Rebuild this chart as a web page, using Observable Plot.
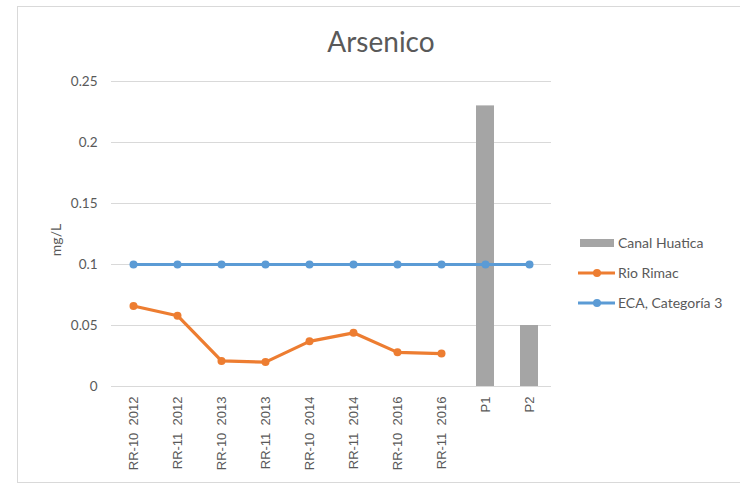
<!DOCTYPE html>
<html><head><meta charset="utf-8">
<script src="https://cdn.jsdelivr.net/npm/d3@7"></script>
<script src="https://cdn.jsdelivr.net/npm/@observablehq/plot@0.6"></script>
<style>
html,body{margin:0;padding:0;background:#fff;}
#wrap{position:relative;width:740px;height:485px;overflow:hidden;font-family:Lato,"Open Sans",sans-serif;color:#595959;}
#frame{position:absolute;left:17px;top:6px;width:740px;height:477px;border:1px solid #d9d9d9;box-sizing:border-box;}
#title{position:absolute;left:0;width:762px;top:24px;text-align:center;font-size:28px;color:#595959;}
#ylab{position:absolute;left:55px;top:240px;transform:translate(-50%,-50%) rotate(-90deg);font-size:14px;}
.leg{position:absolute;left:578px;font-size:14px;display:flex;align-items:center;}
.leg svg{margin-right:3px;}
#chart{position:absolute;left:0;top:0;}
</style></head><body>
<div id="wrap"><div id="frame"></div><div id="chart"></div><div id="title">Arsenico</div><div id="ylab">mg/L</div>
<div class="leg" style="top:234px"><svg width="37" height="10"><rect x="2" y="1" width="34" height="8" fill="#A5A5A5"/></svg>Canal Huatica</div>
<div class="leg" style="top:264px"><svg width="37" height="10"><line x1="0" x2="37" y1="5" y2="5" stroke="#ED7D31" stroke-width="3"/><circle cx="19" cy="5" r="4" fill="#ED7D31"/></svg>Rio Rimac</div>
<div class="leg" style="top:294px"><svg width="37" height="10"><line x1="0" x2="37" y1="5" y2="5" stroke="#5B9BD5" stroke-width="3"/><circle cx="19" cy="5" r="4" fill="#5B9BD5"/></svg>ECA, Categoría 3</div>
</div>
<script>
const categories = ["RR-10  2012","RR-11  2012","RR-10  2013","RR-11  2013","RR-10  2014","RR-11  2014","RR-10  2016","RR-11  2016","P1","P2"];
const rimacCats = categories.slice(0,8);
const rimacValues = [0.066,0.058,0.021,0.020,0.037,0.044,0.028,0.027];
const huaticaCats = ["P1","P2"];
const huaticaValues = [0.23,0.05];
const ecaValues = [0.1,0.1,0.1,0.1,0.1,0.1,0.1,0.1,0.1,0.1];
const yTicks = [0,0.05,0.1,0.15,0.2,0.25];

const rimac = rimacCats.map((c,i)=>({c,v:rimacValues[i]}));
const huatica = huaticaCats.map((c,i)=>({c,v:huaticaValues[i]}));
const eca = categories.map((c,i)=>({c,v:ecaValues[i]}));

const chart = Plot.plot({
  width:740, height:485,
  marginLeft:111, marginRight:189, marginTop:81, marginBottom:99,
  style:{fontFamily:"Lato, 'Open Sans', sans-serif", fontSize:"13px", color:"#595959", background:"transparent"},
  x:{type:"band", domain:categories, paddingInner:0.6, paddingOuter:0.3, label:null},
  y:{domain:[0,0.25], label:null},
  marks:[
    Plot.ruleY(yTicks.filter(d=>d>0), {stroke:"#d9d9d9", strokeWidth:1, strokeOpacity:1}),
    Plot.ruleY([0], {stroke:"#d9d9d9", strokeWidth:1}),
    Plot.axisY({ticks:yTicks, tickSize:0, tickPadding:14, tickFormat:d=>String(d), fontSize:13.5}),
    Plot.axisX({tickSize:0, tickPadding:10, tickRotate:-90, fontSize:13, fontFamily:"Liberation Sans, Arial, sans-serif"}),
    Plot.barY(huatica, {x:"c", y:"v", fill:"#A5A5A5"}),
    Plot.line(rimac, {x:"c", y:"v", stroke:"#ED7D31", strokeWidth:3.2}),
    Plot.dot(rimac, {x:"c", y:"v", fill:"#ED7D31", r:4}),
    Plot.line(eca, {x:"c", y:"v", stroke:"#5B9BD5", strokeWidth:3.2}),
    Plot.dot(eca, {x:"c", y:"v", fill:"#5B9BD5", r:4})
  ]
});
document.getElementById("chart").appendChild(chart);
</script>
</body></html>
